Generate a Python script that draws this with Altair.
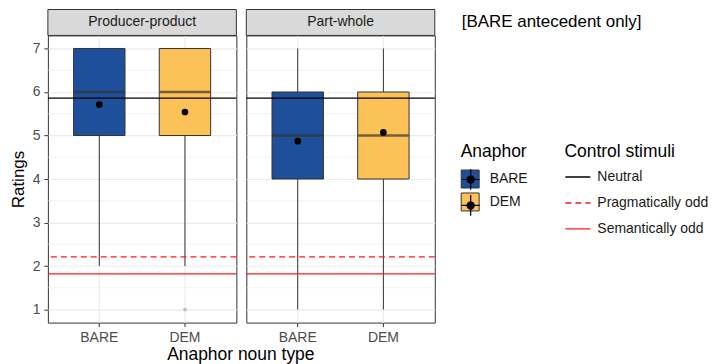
import altair as alt
import pandas as pd

facets = ["Producer-product", "Producer-product", "Part-whole", "Part-whole"]
anaphor = ["BARE", "DEM", "BARE", "DEM"]
q1 = [5, 5, 4, 4]
med = [6, 6, 5, 5]
q3 = [7, 7, 6, 6]
lo = [2, 2, 1, 1]
hi = [7, 7, 7, 7]
means = [5.71, 5.54, 4.87, 5.07]

outlier_facet = ["Producer-product"]
outlier_type = ["DEM"]
outlier_val = [1]

controls = ["Neutral", "Pragmatically odd", "Semantically odd"]
control_vals = [5.86, 2.21, 1.82]

minor_grid = [1.5, 2.5, 3.5, 4.5, 5.5, 6.5]
panel_names = ["Producer-product", "Part-whole"]

FONT = "Liberation Sans"
W, H = 189, 288
LEG_A_X, LEG_C_X, LEG_Y = 414, 518, 108


def ring(r):
    return f"M{r},0A{r},{r},0,1,1,-{r},0A{r},{r},0,1,1,{r},0Z"


# legend key glyph overlay: median line, whisker line and mean dot (solid rings)
KEY_PATH = "M-1,0H1M0,-1.15V1.15" + "".join(ring(r) for r in
                                            ["0.4", "0.32", "0.24", "0.16", "0.08"])

box_df = pd.DataFrame(dict(facet=facets, Type=anaphor, Key=anaphor, q1=q1, med=med,
                           q3=q3, lo=lo, hi=hi, mean=means))
out_df = pd.DataFrame(dict(facet=outlier_facet, Type=outlier_type, val=outlier_val))
ctrl_df = pd.DataFrame(dict(Control=controls, val=control_vals))
minor_df = pd.DataFrame(dict(val=minor_grid))

yscale = alt.Scale(domain=[0.7, 7.3], nice=False, zero=False)
xscale = alt.Scale(domain=["BARE", "DEM"], paddingInner=0.4, paddingOuter=0.3)

leg_common = dict(titleFontSize=17.5, titleFont=FONT, titleFontWeight="normal",
                  labelFont=FONT, labelFontSize=14, padding=0)


def panel(name, first):
    if first:
        yaxis = alt.Axis(title="Ratings", values=[1, 2, 3, 4, 5, 6, 7], grid=True,
                         gridColor="#ebebeb", gridWidth=1.1, domain=False,
                         tickColor="#333333", tickSize=4, labelFontSize=14,
                         labelColor="#4d4d4d", labelFont=FONT, titleFont=FONT,
                         titleFontSize=17, titleFontWeight="normal",
                         titleColor="#000000", labelPadding=4, titlePadding=5)
        xaxis = alt.Axis(title="Anaphor noun type", labelAngle=0, grid=True,
                         bandPosition=0.5, gridColor="#ebebeb", gridWidth=1.1,
                         domain=False, tickColor="#333333", tickSize=4,
                         labelFontSize=14, labelColor="#4d4d4d", labelFont=FONT,
                         titleFont=FONT, titleFontSize=17.5, titleFontWeight="normal",
                         titleColor="#000000", titleX=193, titleAlign="center",
                         titlePadding=1, labelPadding=4)
    else:
        yaxis = alt.Axis(title=None, values=[1, 2, 3, 4, 5, 6, 7], grid=True,
                         gridColor="#ebebeb", gridWidth=1.1, domain=False,
                         labels=False, ticks=False)
        xaxis = alt.Axis(title=None, labelAngle=0, grid=True,
                         bandPosition=0.5, gridColor="#ebebeb", gridWidth=1.1,
                         domain=False, tickColor="#333333", tickSize=4,
                         labelFontSize=14, labelColor="#4d4d4d", labelFont=FONT,
                         labelPadding=4)

    bdf = box_df[box_df.facet == name]
    odf = out_df[out_df.facet == name]

    minor = alt.Chart(minor_df).mark_rule(color="#ebebeb", strokeWidth=0.6).encode(
        y=alt.Y("val:Q", scale=yscale, axis=yaxis))

    base = alt.Chart(bdf)
    x = alt.X("Type:N", scale=xscale, axis=xaxis)

    whisk = base.mark_rule(color="#333333", strokeWidth=1).encode(
        x=x, y=alt.Y("lo:Q", scale=yscale, axis=yaxis), y2="hi:Q")

    box = base.mark_bar(stroke="#333333", strokeWidth=1, opacity=1).encode(
        x=x, y=alt.Y("q1:Q", scale=yscale, axis=yaxis), y2="q3:Q",
        fill=alt.Fill("Type:N", title="Anaphor",
                      scale=alt.Scale(domain=["BARE", "DEM"],
                                      range=["#1d4f9b", "#fdc257"]),
                      legend=alt.Legend(orient="none", legendX=LEG_A_X, legendY=LEG_Y,
                                        symbolType="square", symbolSize=324,
                                        symbolStrokeColor="#333333",
                                        symbolStrokeWidth=1, titleColor="#000000",
                                        labelColor="#1a1a1a", rowPadding=0,
                                        titlePadding=9, labelOffset=10,
                                        **leg_common)))

    median = base.mark_tick(color="#333333", thickness=2.5, size=51).encode(
        x=x, y=alt.Y("med:Q", scale=yscale, axis=yaxis))

    ctrl = alt.Chart(ctrl_df).mark_rule(strokeWidth=1.4).encode(
        y=alt.Y("val:Q", scale=yscale, axis=yaxis),
        stroke=alt.Stroke("Control:N", title="Control stimuli",
                          scale=alt.Scale(domain=controls,
                                          range=["#000000", "#ff1a1a", "#ff1a1a"]),
                          legend=alt.Legend(orient="none", legendX=LEG_C_X,
                                            legendY=LEG_Y,
                                            symbolType="stroke", symbolSize=625,
                                            symbolStrokeWidth=1.4,
                                            titleColor="#000000",
                                            labelColor="#1a1a1a",
                                            rowPadding=5, titlePadding=3,
                                            labelOffset=6, **leg_common)),
        strokeDash=alt.StrokeDash("Control:N", title="Control stimuli",
                                  scale=alt.Scale(domain=controls,
                                                  range=[[1, 0], [6, 4], [1, 0]]),
                                  legend=alt.Legend(orient="none", legendX=LEG_C_X,
                                                    legendY=LEG_Y)))

    mean_pt = base.mark_circle(color="#000000", opacity=1, size=45).encode(
        x=x, y=alt.Y("mean:Q", scale=yscale, axis=yaxis))

    layers = [minor, whisk, box, median, ctrl, mean_pt]

    if first:
        key = base.mark_point(opacity=0).encode(
            x=x, y=alt.Y("mean:Q", scale=yscale, axis=yaxis),
            shape=alt.Shape("Key:N", title="Anaphor ",
                            scale=alt.Scale(domain=["DEM", "BARE"],
                                            range=[KEY_PATH, KEY_PATH]),
                            legend=alt.Legend(orient="none", legendX=LEG_A_X,
                                              legendY=LEG_Y, symbolSize=324,
                                              symbolFillColor="#000000",
                                              symbolStrokeColor="#000000",
                                              symbolStrokeWidth=1.2,
                                              symbolOpacity=1,
                                              titleColor="transparent",
                                              labelColor="transparent",
                                              labelExpr="''",
                                              rowPadding=0, titlePadding=9,
                                              labelOffset=10, zindex=2,
                                              **leg_common)))
        layers.append(key)

    if len(odf):
        outl = alt.Chart(odf).mark_circle(color="#bdbdbd", opacity=1, size=14).encode(
            x=x, y=alt.Y("val:Q", scale=yscale, axis=yaxis))
        layers.append(outl)

    strip_df = pd.DataFrame(dict(label=[name]))
    strip = alt.Chart(strip_df).mark_rect(fill="#d9d9d9", stroke="#333333",
                                          strokeWidth=1).encode(
        x=alt.value(0), x2=alt.value(W), y=alt.value(-26), y2=alt.value(0))
    strip_txt = alt.Chart(strip_df).mark_text(font=FONT, fontSize=14,
                                              color="#1a1a1a").encode(
        x=alt.value(W / 2), y=alt.value(-13), text="label:N")
    layers += [strip, strip_txt]

    if not first:
        note = alt.Chart(pd.DataFrame(dict(t=["[BARE antecedent only]"]))).mark_text(
            font=FONT, fontSize=17, align="left", color="#000000").encode(
            x=alt.value(216), y=alt.value(-13), text="t:N")
        layers.append(note)

    return alt.layer(*layers).properties(width=W, height=H)


chart = alt.hconcat(panel(panel_names[0], True), panel(panel_names[1], False),
                    spacing=10, bounds="flush").resolve_scale(y="shared").configure_view(
    stroke="#333333", strokeWidth=1).properties(
    padding={"left": 0, "top": 0, "right": 0, "bottom": 0})

chart.save("out.html", embed_options={"renderer": "svg", "actions": False})
